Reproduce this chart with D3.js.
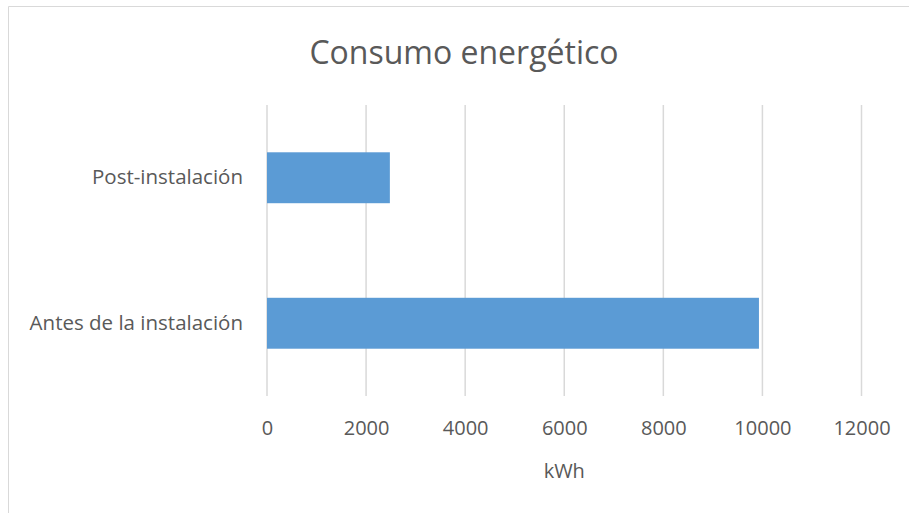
<!DOCTYPE html>
<html>
<head>
<meta charset="utf-8">
<script src="https://cdn.jsdelivr.net/npm/d3@7"></script>
<style>
    body { margin: 0; background: #fff; }
    text { font-family: "Open Sans", sans-serif; fill: #595959; }
</style>
</head>
<body>
<div id="chart"></div>
<script>
const categories = ["Post-instalación", "Antes de la instalación"];
const values = [2480, 9930];
const xTicks = [0, 2000, 4000, 6000, 8000, 10000, 12000];
const title = "Consumo energético";
const xTitle = "kWh";

const width = 909;
const height = 513;
const plot = {left: 267, right: 861.5, top: 105, bottom: 396};

const svg = d3.select("#chart")
    .append("svg")
    .attr("width", width)
    .attr("height", height);

// chart frame (only top and left edges visible)
svg.append("path")
    .attr("d", `M8.5,${height} V6.5 H${width}`)
    .attr("fill", "none")
    .attr("stroke", "#d9d9d9")
    .attr("stroke-width", 1);

const x = d3.scaleLinear()
    .domain([0, 12000])
    .range([plot.left, plot.right]);

const y = d3.scaleBand()
    .domain(categories)
    .range([plot.top, plot.bottom])
    .paddingInner(0.65)
    .paddingOuter(0.325);

// gridlines
svg.append("g")
    .selectAll("line")
    .data(xTicks)
    .join("line")
    .attr("x1", d => x(d))
    .attr("x2", d => x(d))
    .attr("y1", plot.top)
    .attr("y2", plot.bottom)
    .attr("stroke", "#d9d9d9")
    .attr("stroke-width", 1.5);

svg.append("g")
    .selectAll("rect")
    .data(values)
    .join("rect")
    .attr("x", x(0))
    .attr("y", (d, i) => y(categories[i]))
    .attr("width", d => x(d) - x(0))
    .attr("height", y.bandwidth())
    .attr("fill", "#5b9bd5");

// x axis labels
const xAxis = d3.axisBottom(x)
    .tickValues(xTicks)
    .tickFormat(d3.format("d"))
    .tickSize(0)
    .tickPadding(25);

svg.append("g")
    .attr("transform", `translate(0,${plot.bottom})`)
    .call(xAxis)
    .call(g => g.select(".domain").remove())
    .selectAll("text")
    .style("font-family", "'Open Sans', sans-serif")
    .style("font-size", "20px")
    .attr("fill", "#595959");

// y axis labels
const yAxis = d3.axisLeft(y)
    .tickSize(0)
    .tickPadding(24);

svg.append("g")
    .attr("transform", `translate(${plot.left},0)`)
    .call(yAxis)
    .call(g => g.select(".domain").remove())
    .selectAll("text")
    .style("font-family", "'Open Sans', sans-serif")
    .style("font-size", "20.5px")
    .attr("fill", "#595959");

svg.append("text")
    .attr("x", 464)
    .attr("y", 64)
    .attr("text-anchor", "middle")
    .style("font-size", "32px")
    .text(title);

svg.append("text")
    .attr("x", x(6000))
    .attr("y", 478)
    .attr("text-anchor", "middle")
    .style("font-size", "20px")
    .text(xTitle);
</script>
</body>
</html>
